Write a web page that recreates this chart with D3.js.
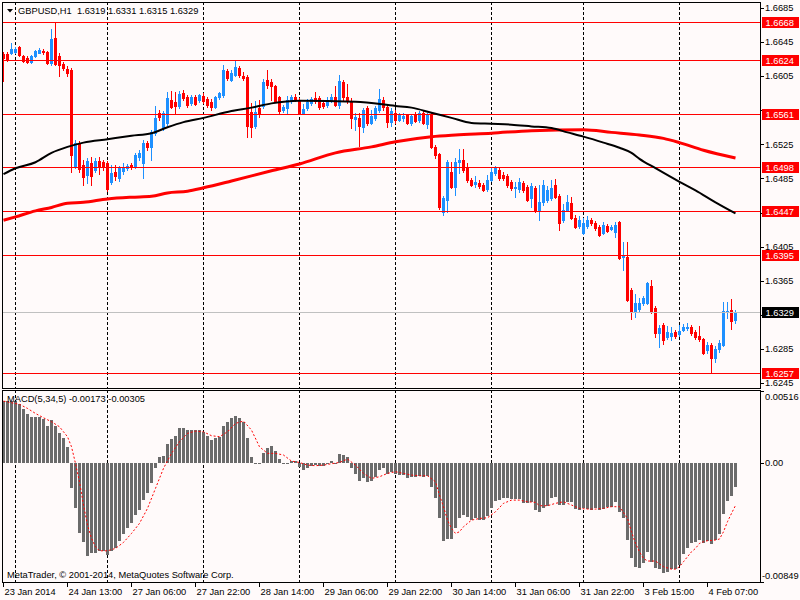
<!DOCTYPE html>
<html>
<head>
<meta charset="utf-8">
<script src="https://cdn.jsdelivr.net/npm/d3@7"></script>
<style>
  body { margin: 0; background: #fffafa; }
  svg { display: block; font-family: 'Liberation Sans', Arial, sans-serif; }
  text { font-size: 9.3px; fill: #000; white-space: pre; }
</style>
</head>
<body>
<div id="chart"></div>
<script>
// GBPUSD H1 candles, bar 0 = 23 Jan 21:00 ... bar 183 = 4 Feb 14:00
const opens = [
  1.6631,1.6631,1.6632,1.6633,1.6639,1.6628,1.6626,1.6621,1.6628,1.6632,
  1.6634,1.6633,1.6620,1.6650,1.6628,1.6619,1.6613,1.6612,1.6500,1.6527,
  1.6501,1.6489,1.6503,1.6495,1.6505,1.6504,1.6503,1.6481,1.6492,1.6485,
  1.6494,1.6497,1.6501,1.6498,1.6510,1.6503,1.6527,1.6522,1.6538,1.6562,
  1.6544,1.6550,1.6577,1.6575,1.6570,1.6585,1.6580,1.6573,1.6580,1.6577,
  1.6582,1.6578,1.6575,1.6569,1.6580,1.6583,1.6611,1.6600,1.6606,1.6614,
  1.6605,1.6604,1.6563,1.6546,1.6568,1.6570,1.6600,1.6598,1.6593,1.6580,
  1.6565,1.6568,1.6576,1.6580,1.6577,1.6562,1.6568,1.6573,1.6579,1.6579,
  1.6573,1.6571,1.6577,1.6580,1.6571,1.6598,1.6580,1.6576,1.6555,1.6556,
  1.6545,1.6568,1.6550,1.6556,1.6565,1.6577,1.6569,1.6551,1.6562,1.6553,
  1.6556,1.6559,1.6550,1.6561,1.6553,1.6562,1.6549,1.6559,1.6522,1.6514,
  1.6446,1.6460,1.6492,1.6475,1.6504,1.6507,1.6498,1.6483,1.6478,1.6480,
  1.6477,1.6473,1.6483,1.6491,1.6495,1.6489,1.6488,1.6481,1.6474,1.6473,
  1.6480,1.6475,1.6462,1.6474,1.6448,1.6457,1.6460,1.6462,1.6477,1.6464,
  1.6436,1.6448,1.6456,1.6439,1.6429,1.6421,1.6429,1.6436,1.6433,1.6428,
  1.6421,1.6429,1.6426,1.6422,1.6434,1.6393,1.6393,1.6354,1.6329,1.6332,
  1.6339,1.6339,1.6359,1.6333,1.6304,1.6313,1.6299,1.6300,1.6305,1.6303,
  1.6307,1.6310,1.6311,1.6305,1.6300,1.6297,1.6284,1.6290,1.6274,1.6285,
  1.6290,1.6329,1.6331,1.6319
];
const highs = [
  1.6633,1.6633,1.6644,1.6639,1.6640,1.6630,1.6628,1.6630,1.6636,1.6638,
  1.6637,1.6634,1.6660,1.6668,1.6632,1.6621,1.6617,1.6614,1.6530,1.6529,
  1.6507,1.6509,1.6510,1.6509,1.6510,1.6507,1.6505,1.6501,1.6501,1.6500,
  1.6503,1.6502,1.6503,1.6515,1.6518,1.6530,1.6529,1.6542,1.6570,1.6565,
  1.6564,1.6586,1.6587,1.6586,1.6587,1.6589,1.6583,1.6583,1.6583,1.6584,
  1.6585,1.6580,1.6578,1.6582,1.6586,1.6618,1.6613,1.6612,1.6624,1.6617,
  1.6610,1.6606,1.6573,1.6576,1.6577,1.6602,1.6612,1.6602,1.6594,1.6582,
  1.6571,1.6582,1.6583,1.6584,1.6579,1.6572,1.6578,1.6580,1.6586,1.6582,
  1.6576,1.6580,1.6584,1.6593,1.6606,1.6600,1.6596,1.6579,1.6562,1.6562,
  1.6568,1.6570,1.6565,1.6570,1.6590,1.6580,1.6571,1.6568,1.6565,1.6562,
  1.6562,1.6561,1.6561,1.6563,1.6564,1.6564,1.6562,1.6562,1.6524,1.6515,
  1.6464,1.6507,1.6504,1.6509,1.6520,1.6520,1.6503,1.6485,1.6488,1.6483,
  1.6480,1.6489,1.6498,1.6500,1.6497,1.6492,1.6490,1.6483,1.6481,1.6485,
  1.6482,1.6477,1.6480,1.6476,1.6477,1.6483,1.6476,1.6483,1.6484,1.6467,
  1.6455,1.6466,1.6463,1.6442,1.6441,1.6439,1.6441,1.6439,1.6435,1.6430,
  1.6434,1.6432,1.6430,1.6434,1.6435,1.6410,1.6410,1.6357,1.6349,1.6345,
  1.6347,1.6364,1.6366,1.6336,1.6313,1.6315,1.6312,1.6311,1.6307,1.6313,
  1.6314,1.6315,1.6313,1.6307,1.6312,1.6298,1.6293,1.6292,1.6289,1.6296,
  1.6340,1.6340,1.6344,1.6331
];
const lows = [
  1.6599,1.6623,1.6631,1.6632,1.6628,1.6621,1.6620,1.6620,1.6627,1.6632,
  1.6631,1.6619,1.6618,1.6618,1.6605,1.6612,1.6605,1.6492,1.6497,1.6492,
  1.6477,1.6480,1.6477,1.6492,1.6490,1.6495,1.6470,1.6478,1.6483,1.6482,
  1.6490,1.6495,1.6496,1.6497,1.6507,1.6485,1.6518,1.6507,1.6536,1.6553,
  1.6542,1.6548,1.6568,1.6562,1.6568,1.6577,1.6569,1.6571,1.6571,1.6575,
  1.6573,1.6569,1.6565,1.6568,1.6578,1.6580,1.6600,1.6599,1.6605,1.6604,
  1.6600,1.6534,1.6534,1.6544,1.6557,1.6568,1.6591,1.6577,1.6575,1.6562,
  1.6563,1.6562,1.6573,1.6576,1.6561,1.6561,1.6565,1.6571,1.6573,1.6566,
  1.6568,1.6569,1.6575,1.6570,1.6568,1.6577,1.6573,1.6544,1.6542,1.6523,
  1.6539,1.6548,1.6549,1.6553,1.6563,1.6565,1.6545,1.6546,1.6550,1.6552,
  1.6552,1.6549,1.6548,1.6551,1.6551,1.6549,1.6544,1.6521,1.6509,1.6449,
  1.6442,1.6446,1.6474,1.6466,1.6491,1.6492,1.6481,1.6476,1.6475,1.6474,
  1.6470,1.6470,1.6482,1.6489,1.6483,1.6483,1.6475,1.6471,1.6463,1.6469,
  1.6469,1.6458,1.6451,1.6446,1.6436,1.6454,1.6457,1.6460,1.6462,1.6425,
  1.6434,1.6447,1.6437,1.6427,1.6427,1.6420,1.6427,1.6430,1.6425,1.6418,
  1.6420,1.6422,1.6425,1.6416,1.6391,1.6378,1.6341,1.6320,1.6323,1.6330,
  1.6337,1.6338,1.6327,1.6299,1.6287,1.6291,1.6297,1.6296,1.6298,1.6300,
  1.6306,1.6307,1.6301,1.6297,1.6294,1.6279,1.6280,1.6257,1.6270,1.6282,
  1.6289,1.6321,1.6309,1.6315
];
const closes = [
  1.6626,1.6624,1.6637,1.6637,1.6630,1.6623,1.6621,1.6628,1.6634,1.6636,
  1.6633,1.6620,1.6648,1.6619,1.6618,1.6614,1.6609,1.6512,1.6527,1.6496,
  1.6487,1.6505,1.6488,1.6505,1.6498,1.6498,1.6473,1.6491,1.6488,1.6497,
  1.6498,1.6500,1.6498,1.6512,1.6515,1.6527,1.6522,1.6539,1.6556,1.6557,
  1.6562,1.6579,1.6569,1.6570,1.6584,1.6579,1.6571,1.6580,1.6572,1.6583,
  1.6576,1.6571,1.6569,1.6580,1.6585,1.6612,1.6603,1.6609,1.6616,1.6606,
  1.6603,1.6546,1.6545,1.6563,1.6562,1.6598,1.6594,1.6593,1.6576,1.6564,
  1.6569,1.6577,1.6580,1.6577,1.6562,1.6566,1.6575,1.6578,1.6576,1.6569,
  1.6570,1.6577,1.6580,1.6571,1.6599,1.6580,1.6576,1.6556,1.6557,1.6546,
  1.6565,1.6550,1.6558,1.6568,1.6578,1.6569,1.6551,1.6564,1.6553,1.6559,
  1.6558,1.6550,1.6558,1.6552,1.6562,1.6550,1.6559,1.6522,1.6512,1.6451,
  1.6462,1.6504,1.6475,1.6504,1.6507,1.6495,1.6483,1.6477,1.6481,1.6476,
  1.6471,1.6483,1.6492,1.6497,1.6485,1.6485,1.6477,1.6474,1.6475,1.6481,
  1.6471,1.6460,1.6476,1.6448,1.6457,1.6477,1.6471,1.6474,1.6463,1.6433,
  1.6448,1.6457,1.6439,1.6428,1.6436,1.6433,1.6436,1.6433,1.6427,1.6419,
  1.6430,1.6423,1.6428,1.6430,1.6392,1.6395,1.6343,1.6329,1.6339,1.6339,
  1.6345,1.6362,1.6329,1.6304,1.6310,1.6296,1.6305,1.6304,1.6300,1.6306,
  1.6311,1.6311,1.6304,1.6299,1.6297,1.6280,1.6290,1.6274,1.6285,1.6292,
  1.6330,1.6330,1.6318,1.6329
];

// moving averages (bar index, price)
const blackMaIdx = [0,3,8,12,16,20,26,32,37,41,45,50,57,62,67,74,88,98,102,107,112,117,122,127,132,137,141,145,150,154,157,159,163,169,173,178,183];
const blackMaVal = [1.6490,1.6497,1.6504,1.6515,1.6522,1.6527,1.6531,1.6535,1.6538,1.6545,1.6551,1.6556,1.6564,1.6568,1.6573,1.6576,1.6575,1.6570,1.6568,1.6562,1.6556,1.6550,1.6549,1.6548,1.6546,1.6544,1.6539,1.6534,1.6527,1.6521,1.6515,1.6508,1.6497,1.6481,1.6471,1.6457,1.6444];
const redMaIdx = [0,3,8,12,16,20,26,32,37,41,46,50,57,67,74,83,92,98,107,113,122,132,145,152,159,165,169,175,183];
const redMaVal = [1.6436,1.6440,1.6447,1.6451,1.6456,1.6457,1.6461,1.6463,1.6464,1.6468,1.6470,1.6474,1.6482,1.6494,1.6502,1.6515,1.6522,1.6528,1.6534,1.6536,1.6538,1.6541,1.6542,1.6539,1.6536,1.6532,1.6527,1.6518,1.6509];

// MACD(5,34,5) histogram, one value per bar
const macdHist = [
  0.00440,0.00440,0.00440,0.00440,0.00419,0.00383,0.00345,0.00329,0.00329,0.00329,
  0.00312,0.00264,0.00305,0.00262,0.00210,0.00174,0.00114,-0.00183,-0.00326,-0.00500,
  -0.00564,-0.00664,-0.00648,-0.00648,-0.00629,-0.00629,-0.00660,-0.00629,-0.00612,-0.00557,
  -0.00510,-0.00469,-0.00433,-0.00374,-0.00338,-0.00267,-0.00214,-0.00148,-0.00040,0.00043,
  0.00048,0.00133,0.00169,0.00190,0.00245,0.00245,0.00233,0.00233,0.00233,0.00233,
  0.00221,0.00193,0.00162,0.00174,0.00186,0.00264,0.00288,0.00317,0.00333,0.00317,
  0.00293,0.00179,0.00043,-0.00005,-0.00012,0.00067,0.00102,0.00119,0.00083,0.00026,
  -0.00005,-0.00005,0.00012,0.00012,-0.00029,-0.00052,-0.00040,-0.00021,-0.00017,-0.00021,
  -0.00021,-0.00010,0.00012,0.00000,0.00062,0.00055,0.00043,-0.00036,-0.00081,-0.00131,
  -0.00107,-0.00136,-0.00131,-0.00105,-0.00052,-0.00036,-0.00083,-0.00069,-0.00083,-0.00088,
  -0.00088,-0.00107,-0.00100,-0.00100,-0.00095,-0.00100,-0.00093,-0.00171,-0.00250,-0.00393,
  -0.00557,-0.00545,-0.00545,-0.00469,-0.00398,-0.00374,-0.00386,-0.00410,-0.00393,-0.00410,
  -0.00410,-0.00379,-0.00321,-0.00274,-0.00267,-0.00255,-0.00255,-0.00260,-0.00260,-0.00262,
  -0.00290,-0.00290,-0.00279,-0.00338,-0.00350,-0.00326,-0.00307,-0.00255,-0.00243,-0.00302,
  -0.00302,-0.00279,-0.00279,-0.00333,-0.00338,-0.00326,-0.00331,-0.00338,-0.00326,-0.00338,
  -0.00331,-0.00319,-0.00314,-0.00283,-0.00355,-0.00398,-0.00552,-0.00679,-0.00743,-0.00750,
  -0.00719,-0.00640,-0.00707,-0.00750,-0.00760,-0.00790,-0.00779,-0.00762,-0.00760,-0.00731,
  -0.00655,-0.00612,-0.00576,-0.00564,-0.00552,-0.00576,-0.00560,-0.00583,-0.00552,-0.00510,
  -0.00369,-0.00274,-0.00238,-0.00173
];
// signal line read at these bars
const signalIdx = [0,4,6,8,10,12,14,15,16,17,18,19,20,21,22,23,24,26,28,30,32,34,36,38,40,42,44,46,48,50,52,54,56,58,60,62,64,66,68,70,72,74,76,78,80,82,84,86,88,90,92,94,96,98,100,102,104,106,108,109,110,111,112,113,114,115,117,119,121,123,125,127,129,131,133,134,136,138,140,142,144,146,148,150,152,154,156,157,158,159,160,161,163,165,167,168,169,170,171,172,173,174,175,176,178,179,180,181,182,183];
const signalVal = [0.00440,0.00417,0.00388,0.00352,0.00321,0.00293,0.00257,0.00221,0.00186,0.00114,-0.00005,-0.00136,-0.00302,-0.00445,-0.00540,-0.00600,-0.00629,-0.00629,-0.00612,-0.00569,-0.00505,-0.00433,-0.00326,-0.00183,-0.00040,0.00067,0.00150,0.00210,0.00226,0.00221,0.00193,0.00186,0.00221,0.00281,0.00298,0.00233,0.00114,0.00067,0.00067,0.00055,0.00012,0.00002,-0.00017,-0.00021,-0.00017,-0.00007,0.00002,0.00026,-0.00017,-0.00076,-0.00112,-0.00100,-0.00076,-0.00064,-0.00076,-0.00088,-0.00093,-0.00093,-0.00136,-0.00231,-0.00314,-0.00410,-0.00469,-0.00505,-0.00493,-0.00457,-0.00410,-0.00398,-0.00393,-0.00350,-0.00290,-0.00267,-0.00267,-0.00279,-0.00283,-0.00307,-0.00307,-0.00290,-0.00279,-0.00302,-0.00326,-0.00331,-0.00331,-0.00326,-0.00314,-0.00314,-0.00398,-0.00493,-0.00576,-0.00636,-0.00683,-0.00702,-0.00702,-0.00743,-0.00760,-0.00760,-0.00743,-0.00707,-0.00671,-0.00636,-0.00612,-0.00576,-0.00564,-0.00557,-0.00552,-0.00545,-0.00493,-0.00421,-0.00362,-0.00305];

// horizontal levels, axis ticks, time labels
const levelPrices = [1.6668, 1.6624, 1.6561, 1.6498, 1.6447, 1.6395, 1.6257];
const lastPrice = 1.6329;
const priceTicks = [1.6685, 1.6645, 1.6605, 1.6565, 1.6525, 1.6485, 1.6445, 1.6405, 1.6365, 1.6325, 1.6285, 1.6245];
const macdTicks = [0.00516, 0, -0.00849];
const macdTickLabels = ['0.00516', '0.00', '-0.00849'];
const timeTickIdx = [0, 16, 32, 48, 64, 80, 96, 112, 128, 144, 160, 176];
const timeTickLabels = ['23 Jan 2014', '24 Jan 13:00', '27 Jan 06:00', '27 Jan 22:00', '28 Jan 14:00', '29 Jan 06:00',
  '29 Jan 22:00', '30 Jan 14:00', '31 Jan 06:00', '31 Jan 22:00', '3 Feb 15:00', '4 Feb 07:00'];
const dayStartIdx = [3, 26, 50, 74, 98, 122, 145, 169];

const main = { left: 2, right: 760, top: 2, bottom: 388 };
const sub = { top: 390, bottom: 582 };
const bg = '#fffafa';
const bull = '#1e90ff';
const bear = '#ff0000';

const svg = d3.select('#chart')
  .append('svg')
  .attr('width', 800)
  .attr('height', 600);

svg.append('rect').attr('width', 800).attr('height', 600).attr('fill', bg);

const x = d3.scaleLinear().domain([0, 183]).range([3, 735]);
const y = d3.scaleLinear().domain([1.62394, 1.66918]).range([388, 2]);
const ym = d3.scaleLinear().domain([-0.00849, 0.00516]).range([581.6, 390.5]);
const px = (v) => Math.round(v) + 0.5;

// clip paths for both panels
const defs = svg.append('defs');
defs.append('clipPath').attr('id', 'clipMain')
  .append('rect').attr('x', main.left).attr('y', main.top)
  .attr('width', main.right - main.left).attr('height', main.bottom - main.top);
defs.append('clipPath').attr('id', 'clipSub')
  .append('rect').attr('x', main.left).attr('y', sub.top)
  .attr('width', main.right - main.left).attr('height', sub.bottom - sub.top);

const gMain = svg.append('g').attr('clip-path', 'url(#clipMain)');
const gSub = svg.append('g').attr('clip-path', 'url(#clipSub)');

// vertical dashed grid (day separators) in both panels
[[gMain, main.top, main.bottom], [gSub, sub.top, sub.bottom]].forEach(([g, y1, y2]) => {
  g.selectAll(null)
    .data(dayStartIdx)
    .enter()
    .append('line')
    .attr('x1', (d) => px(x(d)))
    .attr('x2', (d) => px(x(d)))
    .attr('y1', y1)
    .attr('y2', y2)
    .attr('stroke', '#000')
    .attr('stroke-width', 1)
    .attr('stroke-dasharray', '3,2');
});

// candles
const bars = d3.range(opens.length);
const candle = gMain.selectAll('.candle')
  .data(bars)
  .enter()
  .append('g')
  .attr('class', 'candle')
  .attr('fill', (i) => (closes[i] >= opens[i] ? bull : bear))
  .attr('shape-rendering', 'crispEdges');

candle.append('rect')
  .attr('x', (i) => Math.round(x(i)))
  .attr('width', 1)
  .attr('y', (i) => Math.round(y(highs[i])))
  .attr('height', (i) => Math.round(y(lows[i])) - Math.round(y(highs[i])) + 1);

candle.append('rect')
  .attr('x', (i) => Math.round(x(i)) - 1)
  .attr('width', 3)
  .attr('y', (i) => Math.round(y(Math.max(opens[i], closes[i]))))
  .attr('height', (i) => Math.round(y(Math.min(opens[i], closes[i]))) - Math.round(y(Math.max(opens[i], closes[i]))) + 1);

// horizontal level lines
gMain.selectAll('.level')
  .data(levelPrices)
  .enter()
  .append('line')
  .attr('class', 'level')
  .attr('x1', main.left)
  .attr('x2', main.right)
  .attr('y1', (d) => px(y(d)))
  .attr('y2', (d) => px(y(d)))
  .attr('stroke', bear)
  .attr('stroke-width', 1);

// current price line
gMain.append('line')
  .attr('x1', main.left)
  .attr('x2', main.right)
  .attr('y1', px(y(lastPrice)))
  .attr('y2', px(y(lastPrice)))
  .attr('stroke', '#c0c0c0')
  .attr('stroke-width', 1);

// moving averages
const maLine = d3.line()
  .x((d) => x(d[0]) + 0.5)
  .y((d) => y(d[1]))
  .curve(d3.curveMonotoneX);

gMain.append('path')
  .attr('d', maLine(redMaIdx.map((d, k) => [d, redMaVal[k]])))
  .attr('fill', 'none')
  .attr('stroke', bear)
  .attr('stroke-width', 3);

gMain.append('path')
  .attr('d', maLine(blackMaIdx.map((d, k) => [d, blackMaVal[k]])))
  .attr('fill', 'none')
  .attr('stroke', '#000')
  .attr('stroke-width', 2);

// MACD histogram
gSub.selectAll('.hist')
  .data(bars)
  .enter()
  .append('rect')
  .attr('class', 'hist')
  .attr('x', (i) => Math.round(x(i)) - 1)
  .attr('width', 3)
  .attr('y', (i) => Math.round(ym(Math.max(0, macdHist[i]))))
  .attr('height', (i) => Math.max(1, Math.abs(Math.round(ym(macdHist[i])) - Math.round(ym(0)))))
  .attr('fill', '#6b6b6b')
  .attr('shape-rendering', 'crispEdges');

// MACD signal
const sigLine = d3.line()
  .x((d) => x(d[0]) + 0.5)
  .y((d) => ym(d[1]));

gSub.append('path')
  .attr('d', sigLine(signalIdx.map((d, k) => [d, signalVal[k]])))
  .attr('fill', 'none')
  .attr('stroke', bear)
  .attr('stroke-width', 1)
  .attr('stroke-dasharray', '2,2');

// panel frames
svg.append('rect')
  .attr('x', main.left + 0.5).attr('y', main.top + 0.5)
  .attr('width', main.right - main.left).attr('height', main.bottom - main.top)
  .attr('fill', 'none').attr('stroke', '#000');
svg.append('rect')
  .attr('x', main.left + 0.5).attr('y', sub.top + 0.5)
  .attr('width', main.right - main.left).attr('height', sub.bottom - sub.top)
  .attr('fill', 'none').attr('stroke', '#000');

// price axis ticks and labels (labels sitting under a level box are covered in the original)
const boxPrices = levelPrices.concat([lastPrice]);
const visibleTicks = priceTicks.filter((t) => boxPrices.every((b) => Math.abs(y(t) - y(b)) > 8));

svg.selectAll('.ptick')
  .data(priceTicks)
  .enter()
  .append('line')
  .attr('class', 'ptick')
  .attr('x1', main.right + 0.5).attr('x2', main.right + 4)
  .attr('y1', (d) => px(y(d))).attr('y2', (d) => px(y(d)))
  .attr('stroke', '#000');

svg.selectAll('.plabel')
  .data(visibleTicks)
  .enter()
  .append('text')
  .attr('class', 'plabel')
  .attr('x', 765)
  .attr('y', (d) => y(d))
  .attr('dy', '0.35em')
  .text((d) => d.toFixed(4));

// level price boxes
const box = svg.selectAll('.lbox')
  .data(levelPrices.map((d) => [d, bear]).concat([[lastPrice, '#000']]))
  .enter()
  .append('g')
  .attr('class', 'lbox');
box.append('rect')
  .attr('x', 762)
  .attr('y', (d) => Math.round(y(d[0])) - 5)
  .attr('width', 37)
  .attr('height', 11)
  .attr('fill', (d) => d[1]);
box.append('text')
  .attr('x', 765.5)
  .attr('y', (d) => Math.round(y(d[0])) + 0.5)
  .attr('dy', '0.35em')
  .style('fill', '#fff')
  .text((d) => d[0].toFixed(4));

// MACD axis
svg.selectAll('.mtick')
  .data(macdTicks)
  .enter()
  .append('line')
  .attr('class', 'mtick')
  .attr('x1', main.right + 0.5).attr('x2', main.right + 4)
  .attr('y1', (d) => px(ym(d))).attr('y2', (d) => px(ym(d)))
  .attr('stroke', '#000');

svg.selectAll('.mlabel')
  .data(macdTicks)
  .enter()
  .append('text')
  .attr('class', 'mlabel')
  .attr('x', (d) => (d < 0 ? 762 : 765))
  .attr('y', (d) => Math.min(Math.max(ym(d), sub.top + 7), sub.bottom - 6.5))
  .attr('dy', '0.35em')
  .text((d, k) => macdTickLabels[k]);

// time axis
svg.selectAll('.ttick')
  .data(timeTickIdx)
  .enter()
  .append('line')
  .attr('class', 'ttick')
  .attr('x1', (d) => px(x(d))).attr('x2', (d) => px(x(d)))
  .attr('y1', sub.bottom + 0.5).attr('y2', sub.bottom + 5)
  .attr('stroke', '#000');

svg.selectAll('.tlabel')
  .data(timeTickIdx)
  .enter()
  .append('text')
  .attr('class', 'tlabel')
  .attr('x', (d) => x(d) + 1.5)
  .attr('y', 595)
  .text((d, k) => timeTickLabels[k]);

// header
const last = opens.length - 1;
svg.append('path')
  .attr('d', 'M7,9 L13,9 L10,12.5 Z')
  .attr('fill', '#000');
svg.append('text')
  .attr('x', 18)
  .attr('y', 14)
  .text('GBPUSD,H1  ' + [opens[last], highs[last], lows[last], closes[last]].map((d) => d.toFixed(4)).join(' '));

svg.append('text')
  .attr('x', 7)
  .attr('y', 402)
  .text('MACD(5,34,5) ' + macdHist[last].toFixed(5) + ' ' + signalVal[signalVal.length - 1].toFixed(5));

svg.append('text')
  .attr('x', 7)
  .attr('y', 578)
  .text('MetaTrader, \u00a9 2001-2014, MetaQuotes Software Corp.');
</script>
</body>
</html>
